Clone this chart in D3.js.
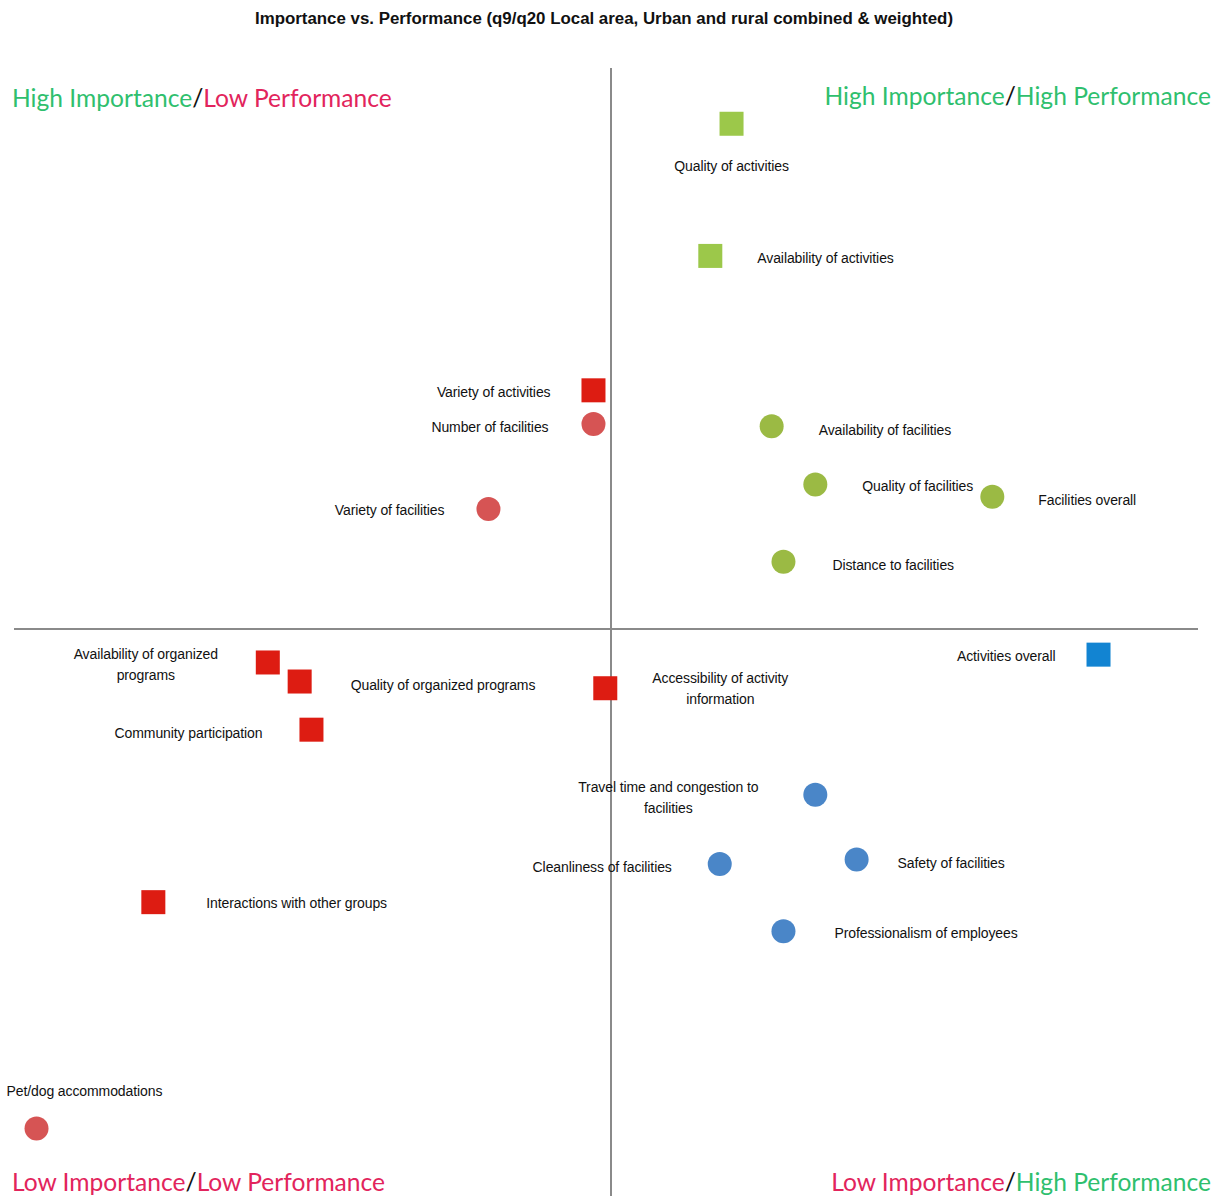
<!DOCTYPE html>
<html><head><meta charset="utf-8">
<script src="https://cdn.jsdelivr.net/npm/d3@7"></script>
<style>
html,body{margin:0;padding:0;background:#fff;}
svg{display:block;}
.lbl{font-family:"Liberation Sans",Arial,sans-serif;font-size:14px;letter-spacing:-0.1px;fill:#111;}
.quad{font-family:Lato,"Open Sans",sans-serif;font-size:24.6px;}
</style></head>
<body>
<script>
// ---- data ----
const names = [
  "Quality of activities","Availability of activities","Variety of activities","Number of facilities",
  "Variety of facilities","Availability of facilities","Quality of facilities","Facilities overall",
  "Distance to facilities","Availability of organized programs","Quality of organized programs",
  "Community participation","Accessibility of activity information","Activities overall",
  "Travel time and congestion to facilities","Cleanliness of facilities","Safety of facilities",
  "Professionalism of employees","Interactions with other groups","Pet/dog accommodations"
];
const performance = [60.3,58.5,48.6,48.6,39.7,63.7,67.4,82.4,64.7,21.0,23.7,24.7,49.6,91.4,67.4,59.3,70.9,64.7,11.3,1.4];
const importance  = [95.2,83.4,71.4,68.4,60.8,68.2,63.0,61.9,56.1,47.1,45.4,41.1,44.8,47.8,35.3,29.1,29.5,23.1,25.7,5.5];
const shapes = ["square","square","square","circle","circle","circle","circle","circle","circle","square","square","square","square","square","circle","circle","circle","circle","square","circle"];
const groups = ["hiGreen","hiGreen","redSq","redCirc","redCirc","hiGreenC","hiGreenC","hiGreenC","hiGreenC","redSq","redSq","redSq","redSq","blueSq","blueCirc","blueCirc","blueCirc","blueCirc","redSq","redCirc"];
const labelLines = {
  "Availability of organized programs":["Availability of organized","programs"],
  "Accessibility of activity information":["Accessibility of activity","information"],
  "Travel time and congestion to facilities":["Travel time and congestion to","facilities"]
};
const quadrants = [
  {a:"High Importance",ca:"hi",b:"Low Performance",cb:"lo",pos:"tl"},
  {a:"High Importance",ca:"hi",b:"High Performance",cb:"hi",pos:"tr"},
  {a:"Low Importance",ca:"lo",b:"Low Performance",cb:"lo",pos:"bl"},
  {a:"Low Importance",ca:"lo",b:"High Performance",cb:"hi",pos:"br"}
];
const title = "Importance vs. Performance (q9/q20 Local area, Urban and rural combined & weighted)";

// ---- styling / layout ----
const colors = {hiGreen:"#9cc84a",hiGreenC:"#9bba44",redSq:"#dd1c12",redCirc:"#d65454",blueSq:"#1284d2",blueCirc:"#4a86c8"};
const quadColors = {hi:"#2fbf6e",lo:"#e2245c"};
const labelLayout = {
  "Quality of activities":["middle",0,42],
  "Availability of activities":["start",47,2],
  "Variety of activities":["end",-43,2],
  "Number of facilities":["end",-45,3],
  "Variety of facilities":["end",-44,1],
  "Availability of facilities":["start",47,4],
  "Quality of facilities":["start",47,2],
  "Facilities overall":["start",46,3],
  "Distance to facilities":["start",49,3],
  "Availability of organized programs":["middle",-122,-8],
  "Quality of organized programs":["start",51,3],
  "Community participation":["end",-49,3],
  "Accessibility of activity information":["middle",115,-10],
  "Activities overall":["end",-43,1],
  "Travel time and congestion to facilities":["middle",-147,-8],
  "Cleanliness of facilities":["end",-48,3],
  "Safety of facilities":["start",41,3],
  "Professionalism of employees":["start",51,2],
  "Interactions with other groups":["start",53,1],
  "Pet/dog accommodations":["start",-30,-37]
};

const W=1225,H=1201;
const svg=d3.select("body").append("svg").attr("width",W).attr("height",H);
const x=d3.scaleLinear().domain([0,100]).range([20,1200]);
const y=d3.scaleLinear().domain([0,100]).range([1190,70]);

svg.append("text").attr("x",604).attr("y",24).attr("text-anchor","middle")
  .attr("textLength",698).attr("lengthAdjust","spacingAndGlyphs")
  .style("font-family","'Liberation Sans',Arial,sans-serif").style("font-size","16px").style("font-weight","bold").style("fill","#111")
  .text(title);

// axes (quadrant dividers)
svg.append("line").attr("x1",x(50)+1).attr("x2",x(50)+1).attr("y1",68).attr("y2",1196).attr("stroke","#8a8a8a").attr("stroke-width",2);
svg.append("line").attr("x1",14).attr("x2",1198).attr("y1",y(50)-1).attr("y2",y(50)-1).attr("stroke","#8a8a8a").attr("stroke-width",2);

// quadrant labels
const qpos={tl:[12,107,"start"],tr:[1211,105,"end"],bl:[12,1191,"start"],br:[1211,1191,"end"]};
quadrants.forEach(q=>{
  const p=qpos[q.pos];
  const t=svg.append("text").attr("class","quad").attr("x",p[0]).attr("y",p[1]).attr("text-anchor",p[2]);
  t.append("tspan").attr("fill",quadColors[q.ca]).text(q.a);
  t.append("tspan").attr("fill","#111").text("/");
  t.append("tspan").attr("fill",quadColors[q.cb]).text(q.b);
});

const pts=names.map((n,i)=>({name:n,px:performance[i],im:importance[i],shape:shapes[i],g:groups[i]}));
const S=24,R=12;
const mk=svg.append("g");
mk.selectAll("rect").data(pts.filter(d=>d.shape==="square")).join("rect")
  .attr("x",d=>x(d.px)-S/2).attr("y",d=>y(d.im)-S/2).attr("width",S).attr("height",S)
  .attr("fill",d=>colors[d.g]);
mk.selectAll("circle").data(pts.filter(d=>d.shape==="circle")).join("circle")
  .attr("cx",d=>x(d.px)).attr("cy",d=>y(d.im)).attr("r",R)
  .attr("fill",d=>colors[d.g]);

const lg=svg.append("g");
pts.forEach(d=>{
  const L=labelLayout[d.name];
  const lines=labelLines[d.name]||[d.name];
  const t=lg.append("text").attr("class","lbl").attr("text-anchor",L[0])
    .attr("x",x(d.px)+L[1]).attr("y",y(d.im)+L[2]).attr("dominant-baseline","central");
  lines.forEach((ln,j)=>{
    t.append("tspan").attr("x",x(d.px)+L[1]).attr("dy",j===0?0:21).text(ln);
  });
});
</script>
</body></html>
